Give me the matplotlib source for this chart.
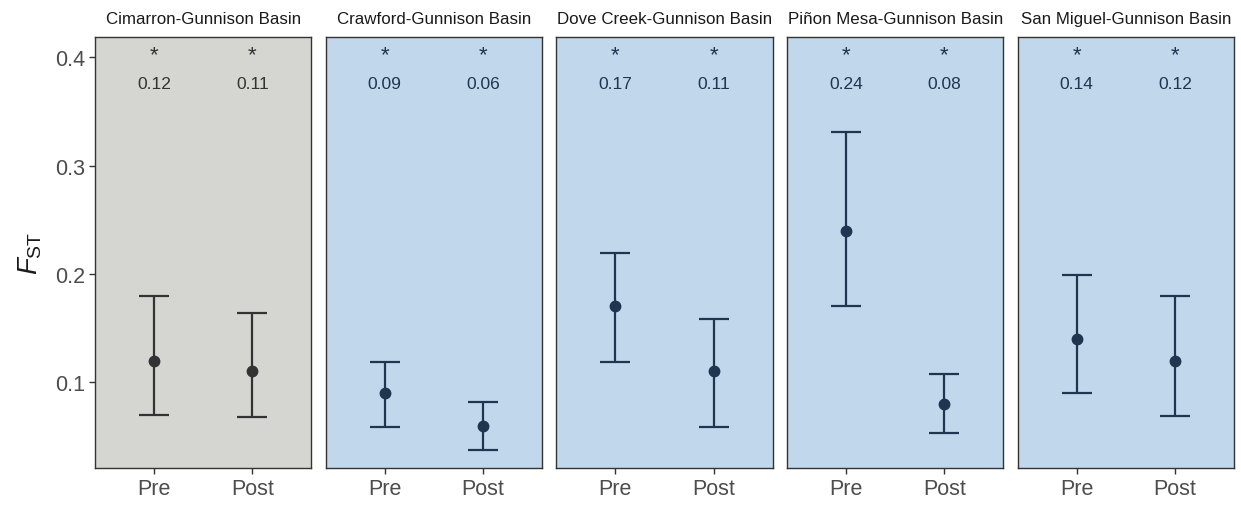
import matplotlib.pyplot as plt
import numpy as np

plt.rcParams['font.family'] = ['Liberation Sans', 'DejaVu Sans']
plt.rcParams['mathtext.fontset'] = 'custom'
plt.rcParams['mathtext.rm'] = 'Liberation Sans'
plt.rcParams['mathtext.it'] = 'Liberation Sans:italic'

# Pairwise FST (pre / post) with confidence limits
pairs = ["Cimarron-Gunnison Basin", "Crawford-Gunnison Basin",
         "Dove Creek-Gunnison Basin", "Piñon Mesa-Gunnison Basin",
         "San Miguel-Gunnison Basin"]
periods = ["Pre", "Post"]
fst_pre = [0.12, 0.09, 0.17, 0.24, 0.14]
fst_post = [0.11, 0.06, 0.11, 0.08, 0.12]
low_pre = [0.070, 0.059, 0.119, 0.170, 0.090]
low_post = [0.068, 0.037, 0.059, 0.053, 0.069]
high_pre = [0.180, 0.119, 0.219, 0.331, 0.199]
high_post = [0.164, 0.082, 0.158, 0.108, 0.180]
signif = [["*", "*"]] * 5

panel_bg = ['#D5D6D1', '#C1D7EC', '#C1D7EC', '#C1D7EC', '#C1D7EC']
ink = ['#333333', '#1F3550', '#1F3550', '#1F3550', '#1F3550']

fig, axes = plt.subplots(1, 5, figsize=(12.41, 5.06), dpi=100, sharey=True)
fig.subplots_adjust(left=0.0766, right=0.9944, top=0.9255, bottom=0.0725, wspace=0.067)

x = np.arange(1, 3)
for i, ax in enumerate(axes):
    est = np.array([fst_pre[i], fst_post[i]])
    lo = np.array([low_pre[i], low_post[i]])
    hi = np.array([high_pre[i], high_post[i]])
    ax.set_facecolor(panel_bg[i])
    ax.errorbar(x, est, yerr=[est - lo, hi - est], fmt='o', color=ink[i],
                ms=7.5, elinewidth=1.6, capsize=11, capthick=1.6)
    for xi, e, s in zip(x, est, signif[i]):
        ax.text(xi, 0.402, s, ha='center', va='center', fontsize=16, color=ink[i])
        ax.text(xi, 0.3758, f'{e:.2f}', ha='center', va='center', fontsize=12.5,
                color=ink[i])
    ax.set_xlim(0.4, 2.6)
    ax.set_xticks(x)
    ax.set_xticklabels(periods)
    ax.set_title(pairs[i], fontsize=12.2, color='#1A1A1A', pad=10)
    for sp in ax.spines.values():
        sp.set_color('#333333')
        sp.set_linewidth(1.0)
    ax.tick_params(axis='x', length=4, width=1, color='#333333',
                   labelsize=15.5, labelcolor='#4D4D4D', pad=3)
    if i == 0:
        ax.tick_params(axis='y', length=4, width=1, color='#333333',
                       labelsize=15.5, labelcolor='#4D4D4D', pad=3)
    else:
        ax.tick_params(axis='y', left=False, labelleft=False)

axes[0].set_ylim(0.0205, 0.419)
axes[0].set_yticks([0.1, 0.2, 0.3, 0.4])
axes[0].set_yticklabels(['0.1', '0.2', '0.3', '0.4'])
axes[0].set_ylabel(r'$F_{\mathrm{ST}}$', fontsize=20, color='#1A1A1A', labelpad=8)

plt.savefig('out.png', dpi=100)
